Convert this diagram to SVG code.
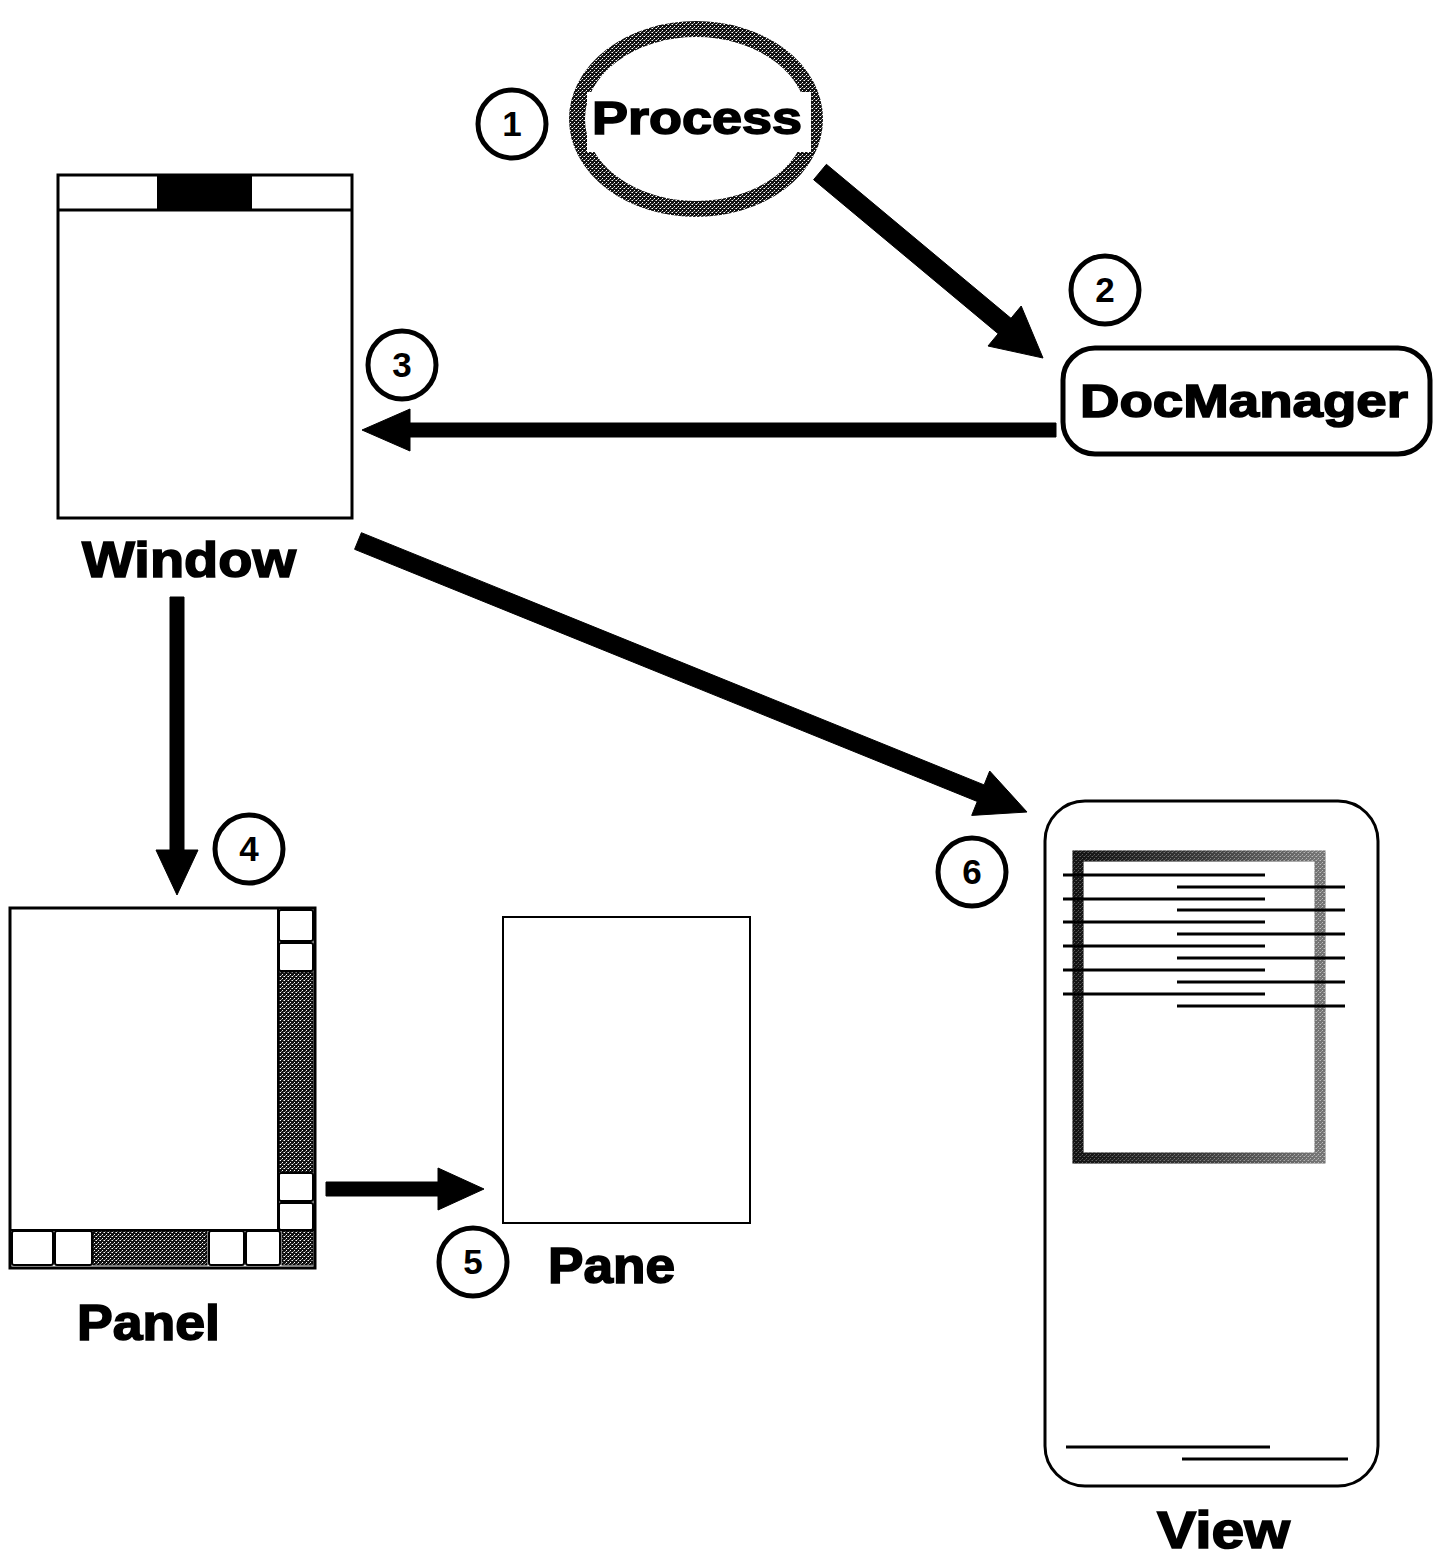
<svg xmlns="http://www.w3.org/2000/svg" width="1441" height="1556" viewBox="0 0 1441 1556">
  <defs>
    <!-- halftone stipple used for shaded parts -->
    <pattern id="stipple" width="4" height="4" patternUnits="userSpaceOnUse">
      <rect width="4" height="4" fill="#111"/>
      <rect x="0" y="0" width="1" height="1" fill="#fff"/>
      <rect x="2" y="2" width="1" height="1" fill="#fff"/>
      <rect x="3" y="0" width="1" height="1" fill="#888"/>
      <rect x="1" y="3" width="1" height="1" fill="#888"/>
    </pattern>
    <linearGradient id="frameShade" x1="0" y1="0" x2="1" y2="0">
      <stop offset="0" stop-color="#141414"/>
      <stop offset="0.5" stop-color="#4a4a4a"/>
      <stop offset="1" stop-color="#a0a0a0"/>
    </linearGradient>
    <style>
      .label { font-family: "Liberation Sans", Arial, sans-serif; font-weight: bold; fill: #000; stroke: #000; stroke-width: 1.6; }
      .num circle { fill: #fff; stroke: #000; stroke-width: 5; }
      .num text { font-family: "Liberation Sans", Arial, sans-serif; font-weight: bold; font-size: 35px; text-anchor: middle; fill: #000; }
      .box { fill: #fff; stroke: #000; stroke-width: 3; }
      .cell { fill: #fff; stroke: #000; stroke-width: 2; }
      .shade { fill: url(#stipple); stroke: #000; stroke-width: 1; }
      .arrow { fill: #000; stroke: #000; stroke-width: 1; stroke-linejoin: round; }
      .line { stroke: #000; stroke-width: 3; }
    </style>
  </defs>

  <rect width="1441" height="1556" fill="#fff"/>

  <!-- Process -->
  <g id="process">
    <ellipse cx="696" cy="119" rx="119" ry="90" fill="#fff" stroke="url(#stipple)" stroke-width="16"/>
    <rect x="587" y="92" width="224" height="60" fill="#fff"/>
    <text class="label" x="592" y="134" font-size="46" textLength="210" lengthAdjust="spacingAndGlyphs">Process</text>
  </g>

  <!-- DocManager -->
  <g id="docmanager">
    <rect x="1063" y="348" width="367" height="106" rx="32" fill="#fff" stroke="#000" stroke-width="5"/>
    <text class="label" x="1080" y="417" font-size="47" textLength="328" lengthAdjust="spacingAndGlyphs">DocManager</text>
  </g>

  <!-- Window -->
  <g id="window">
    <rect class="box" x="58" y="175" width="294" height="343"/>
    <line x1="58" y1="210" x2="352" y2="210" stroke="#000" stroke-width="3"/>
    <rect x="157" y="175" width="95" height="35" fill="#000"/>
    <text class="label" x="82" y="577" font-size="50" textLength="214" lengthAdjust="spacingAndGlyphs">Window</text>
  </g>

  <!-- Panel -->
  <g id="panel">
    <rect class="box" x="10" y="908" width="305" height="360"/>
    <line x1="278" y1="908" x2="278" y2="1230" stroke="#000" stroke-width="2"/>
    <line x1="10" y1="1230" x2="315" y2="1230" stroke="#000" stroke-width="2"/>
    <!-- vertical scroller -->
    <rect class="cell" x="279" y="910" width="34" height="31" rx="2"/>
    <rect class="cell" x="279" y="943" width="34" height="28" rx="2"/>
    <rect class="shade" x="279" y="972" width="34" height="200"/>
    <rect class="cell" x="279" y="1173" width="34" height="28" rx="2"/>
    <rect class="cell" x="279" y="1203" width="34" height="27" rx="2"/>
    <!-- horizontal scroller -->
    <rect class="cell" x="12" y="1231" width="41" height="34" rx="2"/>
    <rect class="cell" x="55" y="1231" width="37" height="34" rx="2"/>
    <rect class="shade" x="93" y="1231" width="114" height="34"/>
    <rect class="cell" x="209" y="1231" width="35" height="34" rx="2"/>
    <rect class="cell" x="246" y="1231" width="34" height="34" rx="2"/>
    <rect class="shade" x="282" y="1231" width="31" height="34"/>
    <text class="label" x="77" y="1340" font-size="50" textLength="143" lengthAdjust="spacingAndGlyphs">Panel</text>
  </g>

  <!-- Pane -->
  <g id="pane">
    <rect x="503" y="917" width="247" height="306" fill="#fff" stroke="#000" stroke-width="2"/>
    <text class="label" x="548" y="1283" font-size="50" textLength="127" lengthAdjust="spacingAndGlyphs">Pane</text>
  </g>

  <!-- View -->
  <g id="view">
    <rect x="1045" y="801" width="333" height="685" rx="40" fill="#fff" stroke="#000" stroke-width="3"/>
    <rect x="1078" y="856" width="242" height="302" fill="none" stroke="url(#frameShade)" stroke-width="11"/>
    <rect x="1078" y="856" width="242" height="302" fill="none" stroke="url(#stipple)" stroke-width="11" opacity="0.3"/>
    <g class="line">
      <line x1="1063" y1="875" x2="1265" y2="875"/>
      <line x1="1063" y1="899" x2="1265" y2="899"/>
      <line x1="1063" y1="922" x2="1265" y2="922"/>
      <line x1="1063" y1="946" x2="1265" y2="946"/>
      <line x1="1063" y1="970" x2="1265" y2="970"/>
      <line x1="1063" y1="994" x2="1265" y2="994"/>
      <line x1="1177" y1="887" x2="1345" y2="887"/>
      <line x1="1177" y1="910" x2="1345" y2="910"/>
      <line x1="1177" y1="934" x2="1345" y2="934"/>
      <line x1="1177" y1="958" x2="1345" y2="958"/>
      <line x1="1177" y1="982" x2="1345" y2="982"/>
      <line x1="1177" y1="1006" x2="1345" y2="1006"/>
      <line x1="1066" y1="1447" x2="1270" y2="1447"/>
      <line x1="1182" y1="1459" x2="1348" y2="1459"/>
    </g>
    <text class="label" x="1157" y="1548" font-size="52" textLength="133" lengthAdjust="spacingAndGlyphs">View</text>
  </g>

  <!-- step numbers -->
  <g id="step-1" class="num"><circle cx="512" cy="124" r="34"/><text x="512" y="136">1</text></g>
  <g id="step-2" class="num"><circle cx="1105" cy="290" r="34"/><text x="1105" y="302">2</text></g>
  <g id="step-3" class="num"><circle cx="402" cy="365" r="34"/><text x="402" y="377">3</text></g>
  <g id="step-4" class="num"><circle cx="249" cy="849" r="34"/><text x="249" y="861">4</text></g>
  <g id="step-5" class="num"><circle cx="473" cy="1262" r="34"/><text x="473" y="1274">5</text></g>
  <g id="step-6" class="num"><circle cx="972" cy="872" r="34"/><text x="972" y="884">6</text></g>

  <!-- connectors -->
  <g id="connectors">
    <polygon class="arrow" points="826.4,164.3 1011,318.3 1021.2,306 1043,358 988,346 998.2,333.7 813.6,179.7"/>
    <polygon class="arrow" points="1056,423 410,423 410,409 362,430 410,451 410,437 1056,437"/>
    <polygon class="arrow" points="170,597 184,597 184,850 198,850 177,895 156,850 170,850"/>
    <polygon class="arrow" points="361.4,532.7 984.1,784.9 989.7,771 1027,812 971.7,815.4 977.3,801.5 354.6,549.3"/>
    <polygon class="arrow" points="326,1182 438,1182 438,1168 484,1189 438,1210 438,1196 326,1196"/>
  </g>
</svg>
